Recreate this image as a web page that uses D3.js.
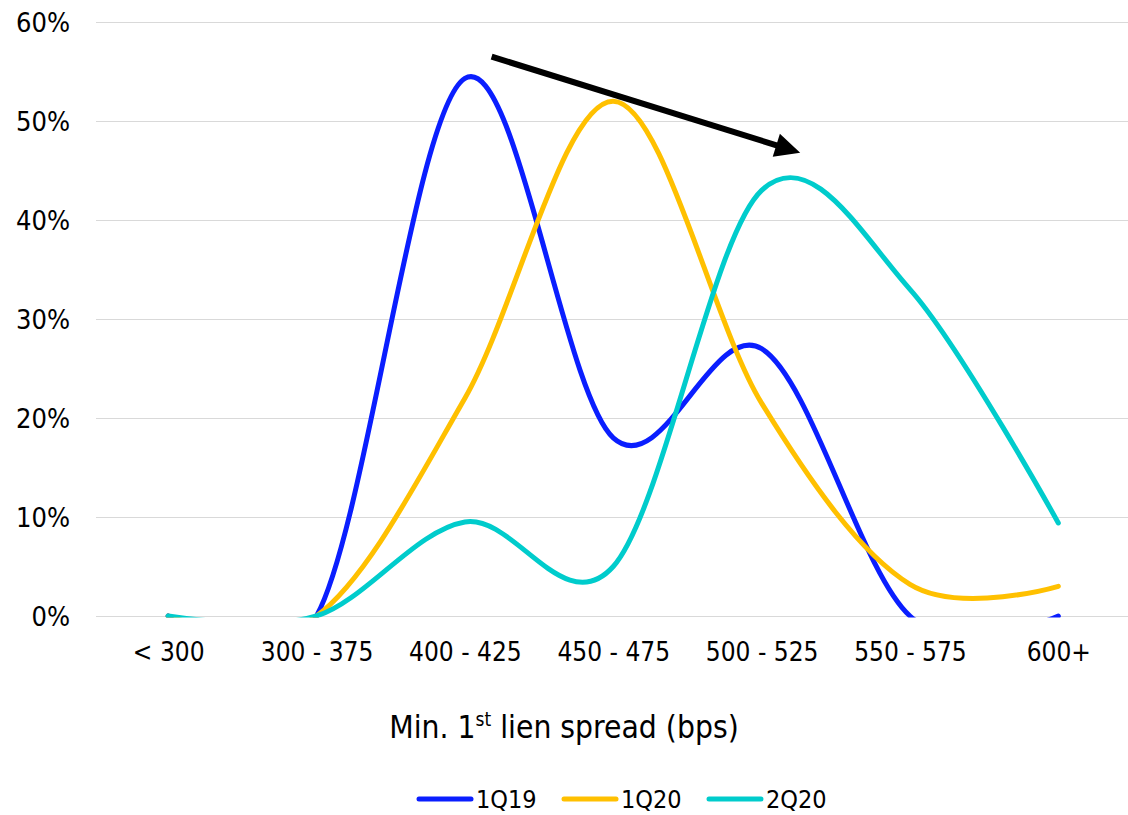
<!DOCTYPE html>
<html>
<head>
<meta charset="utf-8">
<script src="https://cdn.jsdelivr.net/npm/d3@7"></script>
<style>
  html, body { margin: 0; padding: 0; background: #fff; }
  svg { display: block; }
  text { font-family: "DejaVu Sans Condensed", "DejaVu Sans", sans-serif; fill: #000; }
</style>
</head>
<body>
<svg id="chart" width="1128" height="815"></svg>
<script>
// Spread buckets on the x axis
const categories = ["< 300", "300 - 375", "400 - 425", "450 - 475", "500 - 525", "550 - 575", "600+"];

// Share of deals in each bucket, per quarter
const series1Q19 = [0, 0, 0.543, 0.18, 0.27, 0, 0];
const series1Q20 = [0, 0, 0.22, 0.52, 0.215, 0.032, 0.03];
const series2Q20 = [0, 0, 0.095, 0.05, 0.43, 0.33, 0.094];

const seriesNames = ["1Q19", "1Q20", "2Q20"];
const seriesColors = ["#0A1EFF", "#FFC000", "#00CCCC"];

const yTicks = [0, 0.1, 0.2, 0.3, 0.4, 0.5, 0.6];

// Trend arrow, in (category index, share) coordinates
const arrowFrom = [2.18, 0.565];
const arrowTo = [4.26, 0.468];

const series = seriesNames.map((name, i) => ({
  name,
  color: seriesColors[i],
  values: [series1Q19, series1Q20, series2Q20][i]
}));

const svg = d3.select("#chart");
const plot = { left: 94, right: 1132.5, top: 22, bottom: 616 };

const x = d3.scalePoint().domain(categories).range([plot.left, plot.right]).padding(0.5);
const xi = d3.scaleLinear().domain([0, categories.length - 1]).range([x(categories[0]), x(categories[categories.length - 1])]);
const y = d3.scaleLinear().domain([0, 0.6]).range([plot.bottom, plot.top]);

// Horizontal gridlines
svg.append("g")
  .selectAll("line")
  .data(yTicks)
  .join("line")
  .attr("x1", plot.left + 2)
  .attr("x2", 1128)
  .attr("y1", d => Math.round(y(d)) + 0.5)
  .attr("y2", d => Math.round(y(d)) + 0.5)
  .attr("stroke", "#D9D9D9")
  .attr("stroke-width", 1);

// Y axis labels
const yAxis = d3.axisLeft(y).tickValues(yTicks).tickFormat(d3.format(".0%")).tickSize(0).tickPadding(0);
const yg = svg.append("g").attr("transform", "translate(70,0)").call(yAxis);
yg.select(".domain").remove();
yg.selectAll("text")
  .attr("font-size", 27)
  .attr("font-family", "DejaVu Sans Condensed, DejaVu Sans, sans-serif")
  .attr("fill", "#000")
  .attr("dy", "0.36em");

// X axis labels
const xAxis = d3.axisBottom(x).tickSize(0).tickPadding(0);
const xg = svg.append("g").attr("transform", `translate(0,${plot.bottom})`).call(xAxis);
xg.select(".domain").remove();
xg.selectAll("text")
  .attr("font-size", 26)
  .attr("font-family", "DejaVu Sans Condensed, DejaVu Sans, sans-serif")
  .attr("fill", "#000")
  .attr("y", 45)
  .attr("dy", 0);

// Clip lines at the zero baseline
svg.append("clipPath").attr("id", "plot-clip")
  .append("rect")
  .attr("x", 0).attr("y", 0)
  .attr("width", 1128).attr("height", plot.bottom + 1.5);

const line = d3.line()
  .x((d, i) => x(categories[i]))
  .y(d => y(d))
  .curve(d3.curveCatmullRom.alpha(0));

svg.append("g")
  .attr("clip-path", "url(#plot-clip)")
  .selectAll("path")
  .data(series)
  .join("path")
  .attr("d", d => line(d.values))
  .attr("fill", "none")
  .attr("stroke", d => d.color)
  .attr("stroke-width", 5)
  .attr("stroke-linecap", "round")
  .attr("stroke-linejoin", "round");

// Trend arrow
const ax0 = xi(arrowFrom[0]), ay0 = y(arrowFrom[1]);
const ax1 = xi(arrowTo[0]), ay1 = y(arrowTo[1]);
const ang = Math.atan2(ay1 - ay0, ax1 - ax0);
const headLen = 25, headHalf = 12;
const bx = ax1 - headLen * Math.cos(ang), by = ay1 - headLen * Math.sin(ang);
svg.append("line")
  .attr("x1", ax0).attr("y1", ay0)
  .attr("x2", bx + 2 * Math.cos(ang)).attr("y2", by + 2 * Math.sin(ang))
  .attr("stroke", "#000")
  .attr("stroke-width", 6);
svg.append("path")
  .attr("d", d3.line()([
    [ax1, ay1],
    [bx + headHalf * Math.sin(ang), by - headHalf * Math.cos(ang)],
    [bx - headHalf * Math.sin(ang), by + headHalf * Math.cos(ang)]
  ]) + "Z")
  .attr("fill", "#000");

// Axis title
const title = svg.append("text")
  .attr("x", 564)
  .attr("y", 738)
  .attr("text-anchor", "middle")
  .attr("font-size", 31.5);
title.append("tspan").text("Min. 1");
title.append("tspan").text("st").attr("font-size", 19).attr("dy", -12);
title.append("tspan").text(" lien spread (bps)").attr("dy", 12);

// Legend
const legendX = [417, 562, 707];
const legend = svg.append("g")
  .selectAll("g")
  .data(series)
  .join("g")
  .attr("transform", (d, i) => `translate(${legendX[i]},799)`);
legend.append("line")
  .attr("x1", 2).attr("x2", 54)
  .attr("stroke", d => d.color)
  .attr("stroke-width", 5)
  .attr("stroke-linecap", "round");
legend.append("text")
  .attr("x", 59)
  .attr("y", 9)
  .attr("font-size", 25)
  .text(d => d.name);
</script>
</body>
</html>
